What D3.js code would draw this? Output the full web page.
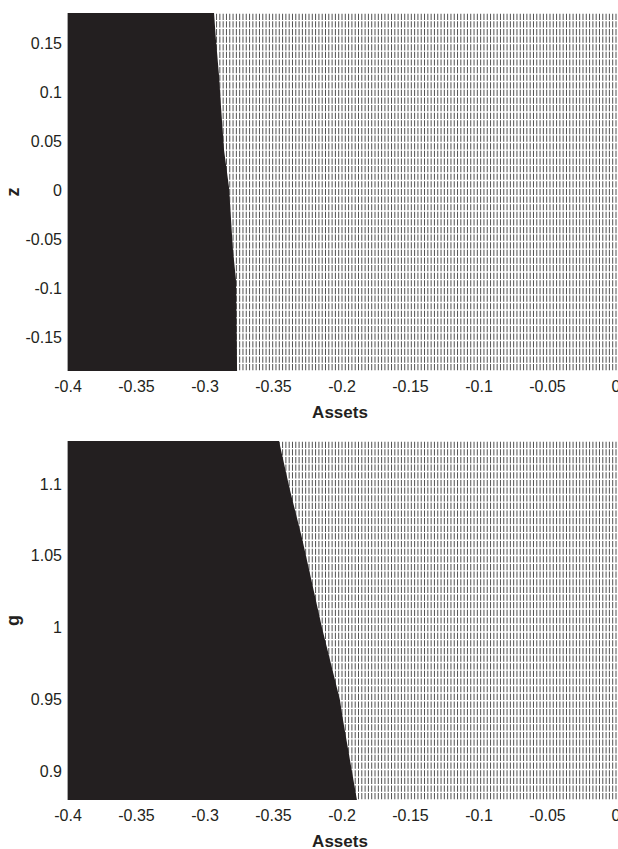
<!DOCTYPE html>
<html>
<head>
<meta charset="utf-8">
<script src="https://cdn.jsdelivr.net/npm/d3@7"></script>
<style>
  body { margin: 0; background: #fff; }
  text { font-family: "Liberation Sans", Arial, sans-serif; fill: #231f20; }
</style>
</head>
<body>
<div id="chart"></div>
<script>
// tick labels copied as printed (4th x label reads -0.35 in the figure)
var assetTicks = [-0.4, -0.35, -0.3, -0.25, -0.2, -0.15, -0.1, -0.05, 0];
var assetTickLabels = ["-0.4", "-0.35", "-0.3", "-0.35", "-0.2", "-0.15", "-0.1", "-0.05", "0"];
var zTicks = [-0.15, -0.1, -0.05, 0, 0.05, 0.1, 0.15];
var gTicks = [0.9, 0.95, 1, 1.05, 1.1];

// edge of the black region: [shock value, asset value]
var zEdge = [[0.181, -0.2934], [0.1535, -0.2920], [0.1178, -0.2898], [0.085, -0.2883],
             [0.041, -0.2861], [0.0035, -0.2825], [-0.0607, -0.2796], [-0.091, -0.2774],
             [-0.184, -0.2766]];
var gEdge = [[1.130, -0.2460], [1.0959, -0.2380], [1.0625, -0.2292], [1.0, -0.2146],
             [0.9497, -0.2015], [0.9358, -0.1993], [0.880, -0.1891]];

var nAssets = 167, nRows = 47;

var width = 618, height = 849;
var svg = d3.select("#chart").append("svg")
    .attr("width", width)
    .attr("height", height);

var panels = [
    { top: 13, bottom: 371, domain: [-0.184, 0.181], ticks: zTicks, edge: zEdge, label: "z" },
    { top: 441, bottom: 800, domain: [0.880, 1.130], ticks: gTicks, edge: gEdge, label: "g" }
];

var x = d3.scaleLinear().domain([-0.4, 0]).range([68, 616]);
var assetGrid = d3.range(nAssets).map(i => -0.4 + i * 0.4 / (nAssets - 1));

panels.forEach(function (p) {
    var y = d3.scaleLinear().domain(p.domain).range([p.bottom, p.top]);
    var g = svg.append("g");

    // grid lines of the asset grid
    g.append("g").selectAll("line")
        .data(assetGrid)
        .enter().append("line")
        .attr("x1", d => x(d)).attr("x2", d => x(d))
        .attr("y1", p.top).attr("y2", p.bottom)
        .attr("stroke", "#333")
        .attr("stroke-width", 0.85);

    // white gaps between shock rows
    var rows = d3.range(nRows + 1).map(i => p.domain[0] + i * (p.domain[1] - p.domain[0]) / nRows);
    g.append("g").selectAll("line")
        .data(rows)
        .enter().append("line")
        .attr("x1", x(-0.4)).attr("x2", x(0) + 1)
        .attr("y1", d => y(d)).attr("y2", d => y(d))
        .attr("stroke", "#fff")
        .attr("stroke-width", 1.4);

    // black region
    var area = d3.area()
        .y(d => y(d[0]))
        .x0(x(-0.4))
        .x1(d => x(d[1]));
    g.append("path")
        .datum(p.edge)
        .attr("d", area)
        .attr("fill", "#231f20");

    // y ticks
    g.append("g").selectAll("text")
        .data(p.ticks)
        .enter().append("text")
        .attr("x", 62)
        .attr("y", d => y(d) + 5.5)
        .attr("text-anchor", "end")
        .attr("font-size", 16)
        .text(d => String(d));

    // x ticks
    g.append("g").selectAll("text")
        .data(assetTicks)
        .enter().append("text")
        .attr("x", d => x(d))
        .attr("y", p.bottom + 21)
        .attr("text-anchor", "middle")
        .attr("font-size", 16)
        .text((d, i) => assetTickLabels[i]);

    g.append("text")
        .attr("x", 340)
        .attr("y", p.bottom + 47)
        .attr("text-anchor", "middle")
        .attr("font-size", 17)
        .attr("font-weight", "bold")
        .text("Assets");

    g.append("text")
        .attr("transform", "translate(19," + (y((p.domain[0] + p.domain[1]) / 2)) + ") rotate(-90)")
        .attr("text-anchor", "middle")
        .attr("font-size", 18)
        .attr("font-weight", "bold")
        .text(p.label);
});
</script>
</body>
</html>
